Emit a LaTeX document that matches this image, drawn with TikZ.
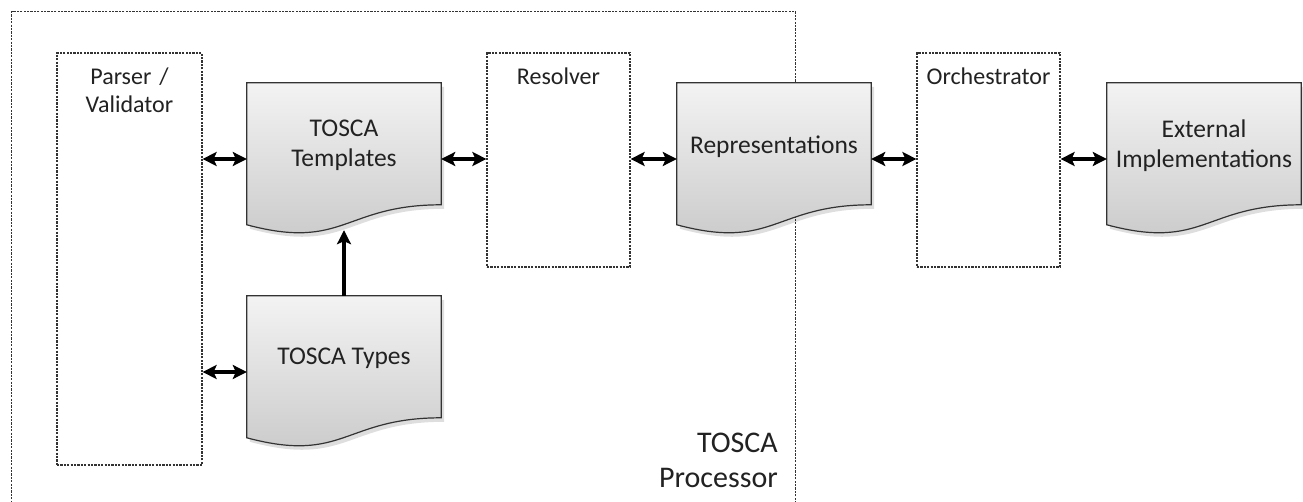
\documentclass[tikz,border=0pt]{standalone}
\usepackage{fontspec}
\setmainfont{Carlito}
\usetikzlibrary{arrows.meta,calc}
\definecolor{dashc}{HTML}{333333}
\definecolor{docline}{HTML}{333333}
\definecolor{doctop}{HTML}{F3F3F3}
\definecolor{docbot}{HTML}{C8C8C8}
\definecolor{txt}{HTML}{222222}
\tikzset{
  dbox/.style={draw=dashc, line width=1.2pt, dash pattern=on 2.2pt off 1.2pt, inner sep=0pt},
  docbox/.style={minimum width=194pt, minimum height=152pt, inner sep=0pt},
  lbl/.style={font=\fontsize{24}{28}\selectfont, text=txt, align=center, text width=170pt, inner sep=0pt},
  doclbl/.style={font=\fontsize{25.5}{30}\selectfont, text=txt, align=center, inner sep=0pt},
  dbl/.style={line width=3.3pt, {Stealth[length=14pt,width=14pt,inset=3pt]}-{Stealth[length=14pt,width=14pt,inset=3pt]}},
  sgl/.style={line width=3.3pt, -{Stealth[length=14pt,width=14pt,inset=3pt]}}
}
\newcommand\mydocshape[1]{%
  \fill[black, opacity=0.13] ($(#1.north west)+(3,4)$) -- ($(#1.north east)+(3,4)$) -- ($(#1.north east)+(3,126)$)
    .. controls ($(#1.north)+(3,126)$) and ($(#1.north)+(3,172)$) .. ($(#1.north west)+(3,146)$) -- cycle;
  \draw[docline, line width=1.2pt, top color=doctop, bottom color=docbot]
    (#1.north west) -- (#1.north east) -- ($(#1.north east)+(0,122)$)
    .. controls ($(#1.north)+(0,122)$) and ($(#1.north)+(0,168)$) .. ($(#1.north west)+(0,142)$) -- cycle;
}
\begin{document}
\begin{tikzpicture}[x=1pt, y=-1pt]
\useasboundingbox (0,0) rectangle (1303,502);
\clip (0,0) rectangle (1303,502);
\fill[white] (0,0) rectangle (1303,502);
% outer processor frame
\node[dbox, minimum width=784pt, minimum height=510pt, anchor=north west] (proc) at (11,11) {};
\node[font=\fontsize{30}{35}\selectfont, text=txt, align=right, text width=200pt, inner sep=0pt, anchor=base east] (proclbl) at (778,452) {TOSCA\\Processor};
% dashed boxes
\node[dbox, minimum width=145pt, minimum height=412pt] (parser) at (129.5,259) {};
\node[dbox, minimum width=143pt, minimum height=214pt] (res) at (558.5,160) {};
\node[dbox, minimum width=143pt, minimum height=214pt] (orch) at (988.5,160) {};
\node[lbl, anchor=base] (parserlbl) at ($(parser.north)+(0,32)$) {Parser /\\Validator};
\node[lbl, anchor=base] (reslbl) at ($(res.north)+(0,32)$) {Resolver};
\node[lbl, anchor=base] (orchlbl) at ($(orch.north)+(0,32)$) {Orchestrator};
% documents
\node[docbox] (tpl) at (344,159) {};
\node[docbox] (types) at (344,372) {};
\node[docbox] (rep) at (774,159) {};
\node[docbox] (ext) at (1204,159) {};
\mydocshape{tpl}
\mydocshape{types}
\mydocshape{rep}
\mydocshape{ext}
\node[doclbl] (tpltxt) at ($(tpl.center)+(0,-14)$) {TOSCA\\Templates};
\node[doclbl] (typestxt) at ($(types.center)+(0,-14)$) {TOSCA Types};
\node[doclbl] (reptxt) at ($(rep.center)+(0,-12)$) {Representations};
\node[doclbl] (exttxt) at ($(ext.center)+(0,-13)$) {External\\Implementations};
\coordinate (tplwave) at ($(tpl.south)+(0,-5)$);
% connectors
\draw[dbl] (parser.east |- tpl.west) -- (tpl.west);
\draw[dbl] (tpl.east) -- (res.west |- tpl.east);
\draw[dbl] (res.east |- rep.west) -- (rep.west);
\draw[dbl] (rep.east) -- (orch.west |- rep.east);
\draw[dbl] (orch.east |- ext.west) -- (ext.west);
\draw[dbl] (parser.east |- types.west) -- (types.west);
\draw[sgl] (types.north) -- (tplwave);
\end{tikzpicture}
\end{document}
